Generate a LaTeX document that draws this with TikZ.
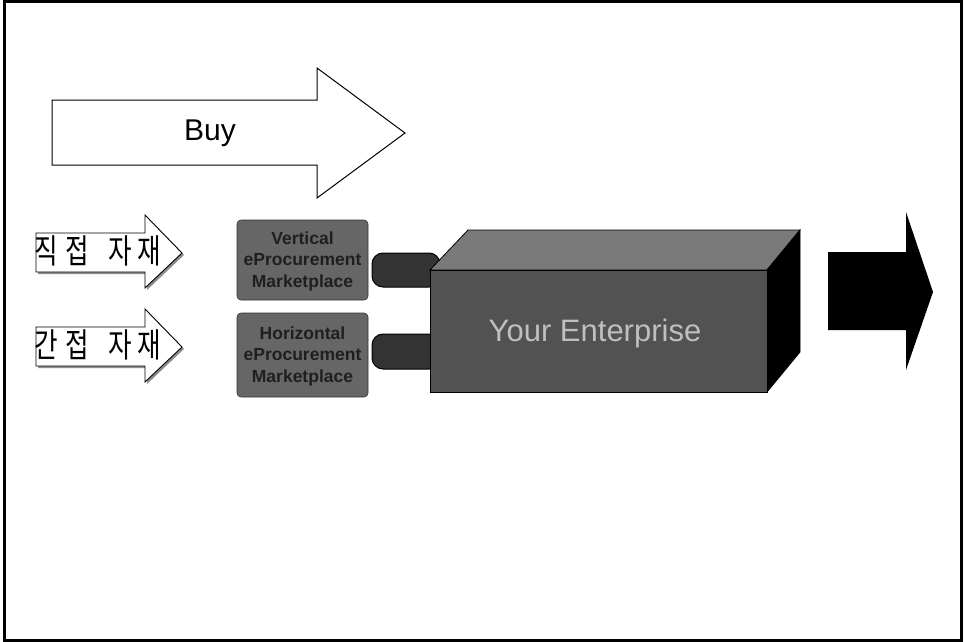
\documentclass[tikz,border=0pt]{standalone}
\usepackage{fontspec}
\setmainfont{Liberation Sans}
\newfontfamily\krfont{Noto Sans CJK KR}
\begin{document}
\begin{tikzpicture}[x=1pt,y=-1pt,
  outline/.style={draw=black,line width=1.2pt,line join=miter},
  arrowshadow/.style={fill=black!45},
  mkbox/.style={fill=black!60,draw=black!80,line width=0.6pt,rounded corners=4pt},
  mktext/.style={font=\bfseries\fontsize{17.5}{21.5}\selectfont,text=black!88,align=center,inner sep=0pt},
  pill/.style={fill=black!80,draw=black,line width=1pt,rounded corners=11pt},
  krtext/.style={font=\krfont\fontsize{32}{33}\selectfont,anchor=west,xscale=0.8,yscale=1.05,inner sep=0pt}]
\useasboundingbox (0,0) rectangle (964,642);
\fill[white] (0,0) rectangle (964,642);
\draw[line width=3pt] (4,2) rectangle (961,640);
% Buy arrow
\draw[outline,line width=1pt] (52,100) -- (317,100) -- (317,68) -- (405,133) -- (317,198) -- (317,165) -- (52,165) -- cycle;
\node[font=\fontsize{30}{32}\selectfont] (buy) at (210,133) {Buy};
% small arrows
\foreach \y/\n in {0/a,94/b}{
  \fill[arrowshadow] ([shift={(2,2)}]36,233+\y) -- (147,233+\y) -- (147,217+\y) -- (184,255+\y) -- (147,290+\y) -- (147,274+\y) -- (38,274+\y) -- cycle;
  \draw[outline,fill=white,line width=0.9pt] (36,233+\y) -- (145,233+\y) -- (145,215+\y) -- (182,253+\y) -- (145,288+\y) -- (145,272+\y) -- (36,272+\y) -- cycle;
}
\node[krtext] (direct) at (34,251) {직\hspace{10pt}접\hspace{24pt}자\hspace{7pt}재};
\node[krtext] (indirect) at (34,345) {간\hspace{10pt}접\hspace{24pt}자\hspace{7pt}재};
% pills (connectors)
\draw[pill] (372,253) rectangle (440,287);
\draw[pill] (372,334) rectangle (440,369);
% marketplace boxes
\path[mkbox] (237,220) rectangle (368,300);
\node[mktext] (vert) at (302.5,261) {Vertical\\eProcurement\\Marketplace};
\path[mkbox] (237,313) rectangle (368,397);
\node[mktext] (horiz) at (302.5,356) {Horizontal\\eProcurement\\Marketplace};
% enterprise box
\fill[black!52,draw=black,line width=0.8pt] (430,270) -- (468,230) -- (800,230) -- (767,270) -- cycle;
\fill[black,draw=black,line width=0.8pt] (767,270) -- (800,230) -- (800,352) -- (767,392) -- cycle;
\fill[black!68,draw=black,line width=0.8pt] (430,270) rectangle (767,392);
\node[font=\fontsize{31}{33}\selectfont,text=black!25] (ent) at (595,333) {Your Enterprise};
% black arrow
\fill[black] (828,252) -- (906,252) -- (906,212) -- (933,292) -- (906,370) -- (906,330) -- (828,330) -- cycle;
\end{tikzpicture}
\end{document}
